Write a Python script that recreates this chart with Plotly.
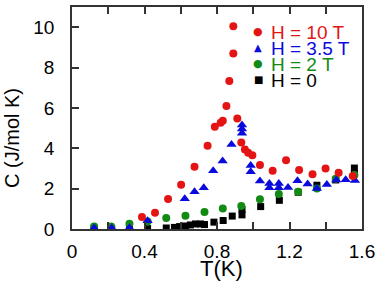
import plotly.graph_objects as go

# ---- data ----
T_10 = [0.386, 0.458, 0.530, 0.602, 0.676, 0.748, 0.788, 0.820, 0.832, 0.852, 0.868,
        0.890, 0.890, 0.912, 0.934, 0.954, 0.972, 0.995, 1.037, 1.107, 1.181, 1.253,
        1.327, 1.399, 1.471, 1.549]
C_10 = [0.60, 0.81, 1.49, 2.19, 3.09, 4.13, 5.07, 5.26, 5.36, 6.09, 7.33,
        8.70, 10.05, 5.48, 4.29, 3.94, 3.78, 3.65, 3.17, 2.89, 3.41, 2.92,
        2.71, 3.00, 2.79, 2.63]

T_35 = [0.122, 0.219, 0.317, 0.417, 0.622, 0.676, 0.727, 0.779, 0.831, 0.880,
        0.938, 0.938, 0.938, 0.986, 0.986, 1.037, 1.089, 1.089, 1.141, 1.141,
        1.192, 1.244, 1.300, 1.351, 1.406, 1.458, 1.510, 1.561]
C_35 = [0.05, 0.05, 0.06, 0.41, 1.50, 1.84, 2.05, 2.89, 3.37, 4.19,
        5.15, 4.95, 4.74, 3.15, 2.84, 2.38, 2.26, 2.05, 2.26, 2.05,
        2.06, 2.39, 2.23, 2.01, 2.20, 2.43, 2.44, 2.40]

T_2 = [0.122, 0.216, 0.317, 0.417, 0.520, 0.626, 0.731, 0.832, 0.934, 1.037,
       1.141, 1.248, 1.351, 1.455, 1.558]
C_2 = [0.12, 0.12, 0.26, 0.37, 0.55, 0.66, 0.84, 1.01, 1.14, 1.47,
       1.74, 1.85, 2.01, 2.49, 2.67]

T_0 = [0.122, 0.219, 0.317, 0.417, 0.520, 0.565, 0.594, 0.626, 0.653, 0.681,
       0.709, 0.731, 0.783, 0.834, 0.884, 0.938, 0.938, 1.041, 1.144, 1.248,
       1.351, 1.455, 1.558, 1.558]
C_0 = [0.02, 0.02, 0.02, 0.02, 0.05, 0.08, 0.12, 0.15, 0.20, 0.25,
       0.25, 0.22, 0.34, 0.42, 0.64, 0.70, 0.97, 1.11, 1.42, 1.82,
       2.17, 2.43, 2.74, 3.02]

x_ticks = [0, 0.2, 0.4, 0.6, 0.8, 1.0, 1.2, 1.4, 1.6]
x_labels = ["0", "", "0.4", "", "0.8", "", "1.2", "", "1.6"]
y_ticks = [0, 2, 4, 6, 8, 10]

series = [
    ("H = 10 T", T_10, C_10, "#e41414", "circle", 8, "●"),
    ("H = 3.5 T", T_35, C_35, "#0a0adc", "triangle-up", 9, "▲"),
    ("H = 2 T", T_2, C_2, "#138a13", "circle", 8, "●"),
    ("H = 0", T_0, C_0, "#000000", "square", 7, "■"),
]

FONT = "Liberation Sans, Arial, Helvetica, sans-serif"

fig = go.Figure()
for name, t, c, col, sym, sz, glyph in reversed(series):
    fig.add_trace(go.Scatter(x=t, y=c, mode="markers", name=name,
                             marker=dict(color=col, symbol=sym, size=sz, line=dict(width=0)),
                             showlegend=False))

L, R, TOP, B = 72, 21, 7, 54
W, H = 383, 283
pw, ph = W - L - R, H - TOP - B

def px_to_paper(x, y):
    return (x - L) / pw, 1 - (y - TOP) / ph

annotations = []
rows_y = [32.5, 48.5, 64.5, 80.0]
sym_sizes = [11, 10, 11, 10]
for (name, t, c, col, sym, sz, glyph), ry, gs in zip(series, rows_y, sym_sizes):
    sx, sy = px_to_paper(258, ry - 1)
    annotations.append(dict(x=sx, y=sy, xref="paper", yref="paper", text=glyph,
                            showarrow=False, xanchor="center", yanchor="middle",
                            font=dict(family="DejaVu Sans", size=gs, color=col)))
    tx, ty = px_to_paper(269, ry)
    annotations.append(dict(x=tx, y=ty, xref="paper", yref="paper", text=name,
                            showarrow=False, xanchor="left", yanchor="middle",
                            font=dict(family=FONT, size=19, color=col)))

ax, ay = px_to_paper(12, 138)
annotations.append(dict(x=ax, y=ay, xref="paper", yref="paper", text="C (J/mol K)",
                        textangle=-90, showarrow=False, xanchor="center", yanchor="middle",
                        font=dict(family=FONT, size=20, color="black")))
bx, by = px_to_paper(221, 268)
annotations.append(dict(x=bx, y=by, xref="paper", yref="paper", text="T(K)",
                        showarrow=False, xanchor="center", yanchor="middle",
                        font=dict(family=FONT, size=22, color="black")))

fig.update_layout(
    width=W, height=H,
    margin=dict(l=L, r=R, t=TOP, b=B, autoexpand=False),
    paper_bgcolor="white", plot_bgcolor="white",
    font=dict(family=FONT, size=19, color="black"),
    annotations=annotations,
    showlegend=False,
)
fig.update_xaxes(range=[0, 1.6], tickvals=x_ticks, ticktext=x_labels,
                 ticks="inside", ticklen=7, tickwidth=1.5, tickcolor="#333",
                 showline=True, linecolor="#333", linewidth=1.8, mirror="ticks",
                 showgrid=False, zeroline=False, ticklabelstandoff=4,
                 automargin=False, tickfont=dict(size=19))
fig.update_yaxes(range=[0, 11], tickvals=y_ticks,
                 ticks="inside", ticklen=7, tickwidth=1.5, tickcolor="#333",
                 showline=True, linecolor="#333", linewidth=1.8, mirror=True,
                 showgrid=False, zeroline=False, ticklabelstandoff=12,
                 automargin=False, tickfont=dict(size=19))

fig.write_html("out.html", config={"displayModeBar": False},
               post_script="document.body.style.margin='0px';document.body.style.overflow='hidden';")
